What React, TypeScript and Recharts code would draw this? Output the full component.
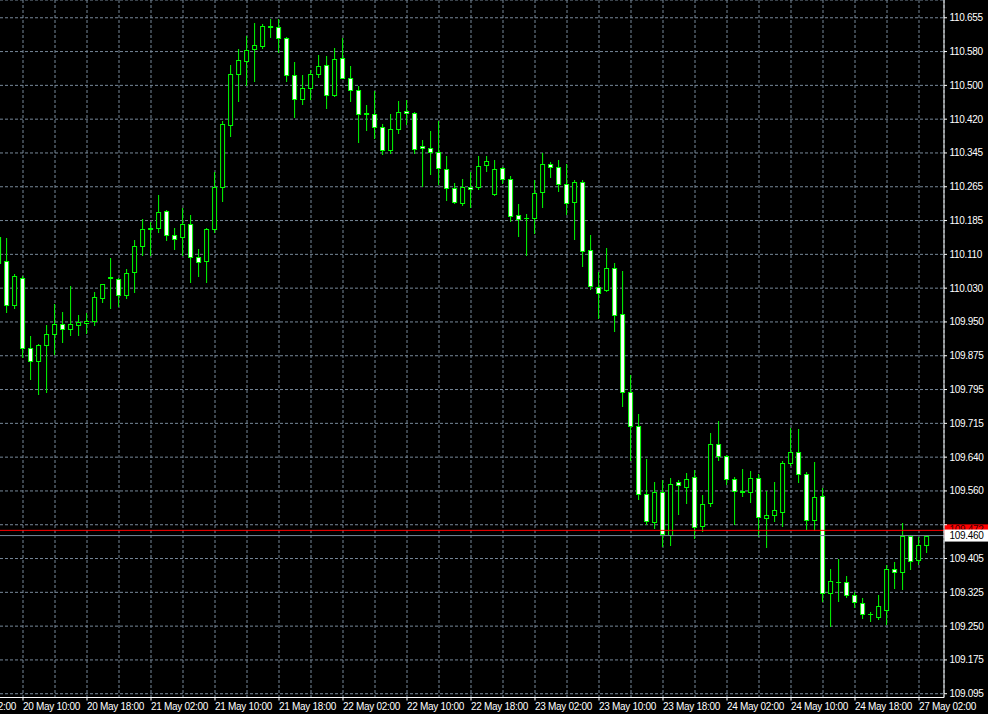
import React from "react";
import { ComposedChart, Bar, XAxis, YAxis, CartesianGrid, ReferenceLine } from "recharts";

// hourly candles, first entry is the bar cut at the left edge
const opens = [
  110.150, 110.093, 109.993, 110.055, 109.894, 109.864, 109.900, 109.926, 109.949, 109.937,
  109.947, 109.950, 109.956, 110.008, 110.055, 110.053, 110.015, 110.069, 110.129, 110.168,
  110.170, 110.210, 110.154, 110.149, 110.180, 110.104, 110.093, 110.167, 110.265, 110.408,
  110.526, 110.555, 110.583, 110.590, 110.635, 110.634, 110.609, 110.524, 110.467, 110.494,
  110.526, 110.547, 110.477, 110.563, 110.517, 110.489, 110.435, 110.434, 110.403, 110.350,
  110.398, 110.440, 110.436, 110.360, 110.355, 110.346, 110.307, 110.263, 110.227, 110.265,
  110.265, 110.316, 110.249, 110.309, 110.284, 110.200, 110.194, 110.194, 110.254, 110.318,
  110.311, 110.272, 110.230, 110.277, 110.120, 110.034, 110.027, 110.078, 109.972, 109.792,
  109.713, 109.557, 109.491, 109.561, 109.462, 109.584, 109.573, 109.596, 109.482, 109.536,
  109.672, 109.644, 109.591, 109.562, 109.560, 109.593, 109.501, 109.508, 109.514, 109.628,
  109.653, 109.603, 109.497, 109.552, 109.327, 109.354, 109.353, 109.323, 109.305, 109.279,
  109.272, 109.289, 109.383, 109.376, 109.460, 109.404, 109.439,
];
const highs = [
  110.155, 110.146, 110.063, 110.058, 109.920, 109.903, 109.947, 109.994, 109.977, 110.037,
  109.970, 109.973, 110.022, 110.041, 110.100, 110.055, 110.076, 110.143, 110.191, 110.183,
  110.245, 110.211, 110.169, 110.217, 110.199, 110.122, 110.170, 110.300, 110.416, 110.547,
  110.584, 110.614, 110.644, 110.641, 110.653, 110.653, 110.610, 110.552, 110.522, 110.535,
  110.570, 110.567, 110.586, 110.609, 110.543, 110.497, 110.453, 110.485, 110.410, 110.434,
  110.462, 110.466, 110.438, 110.374, 110.393, 110.416, 110.335, 110.274, 110.284, 110.299,
  110.337, 110.337, 110.327, 110.310, 110.289, 110.226, 110.203, 110.280, 110.344, 110.323,
  110.326, 110.318, 110.281, 110.281, 110.153, 110.068, 110.123, 110.090, 110.070, 109.830,
  109.740, 109.636, 109.583, 109.589, 109.593, 109.589, 109.605, 109.612, 109.554, 109.697,
  109.725, 109.645, 109.596, 109.614, 109.608, 109.603, 109.562, 109.583, 109.633, 109.708,
  109.705, 109.606, 109.629, 109.570, 109.382, 109.405, 109.366, 109.329, 109.315, 109.284,
  109.322, 109.391, 109.400, 109.490, 109.461, 109.456, 109.461,
];
const lows = [
  110.077, 109.976, 109.985, 109.872, 109.821, 109.787, 109.791, 109.878, 109.906, 109.924,
  109.922, 109.928, 109.947, 109.998, 109.985, 109.990, 110.008, 110.022, 110.107, 110.107,
  110.160, 110.141, 110.121, 110.107, 110.045, 110.060, 110.045, 110.160, 110.233, 110.382,
  110.464, 110.499, 110.510, 110.585, 110.610, 110.576, 110.510, 110.426, 110.456, 110.467,
  110.518, 110.446, 110.474, 110.515, 110.464, 110.368, 110.395, 110.378, 110.341, 110.343,
  110.389, 110.410, 110.343, 110.266, 110.294, 110.271, 110.234, 110.227, 110.222, 110.218,
  110.260, 110.301, 110.245, 110.273, 110.185, 110.151, 110.107, 110.158, 110.218, 110.287,
  110.255, 110.203, 110.144, 110.083, 110.030, 109.962, 110.024, 109.932, 109.760, 109.635,
  109.544, 109.486, 109.477, 109.436, 109.438, 109.510, 109.535, 109.455, 109.470, 109.528,
  109.634, 109.580, 109.486, 109.551, 109.537, 109.459, 109.433, 109.493, 109.483, 109.622,
  109.583, 109.475, 109.473, 109.310, 109.251, 109.310, 109.318, 109.296, 109.269, 109.263,
  109.267, 109.256, 109.339, 109.336, 109.383, 109.395, 109.423,
];
const closes = [
  110.090, 109.993, 110.060, 109.894, 109.864, 109.900, 109.926, 109.949, 109.937, 109.949,
  109.954, 109.956, 110.011, 110.041, 110.057, 110.016, 110.067, 110.129, 110.168, 110.169,
  110.207, 110.154, 110.144, 110.180, 110.103, 110.091, 110.168, 110.265, 110.410, 110.526,
  110.558, 110.581, 110.591, 110.637, 110.634, 110.609, 110.524, 110.468, 110.494, 110.526,
  110.544, 110.477, 110.560, 110.517, 110.489, 110.434, 110.434, 110.403, 110.350, 110.399,
  110.438, 110.436, 110.353, 110.355, 110.346, 110.309, 110.263, 110.230, 110.265, 110.260,
  110.314, 110.325, 110.307, 110.284, 110.198, 110.191, 110.193, 110.251, 110.318, 110.311,
  110.272, 110.228, 110.277, 110.117, 110.037, 110.020, 110.078, 109.970, 109.792, 109.713,
  109.557, 109.493, 109.561, 109.464, 109.580, 109.577, 109.591, 109.479, 109.533, 109.672,
  109.644, 109.591, 109.563, 109.561, 109.593, 109.503, 109.508, 109.518, 109.628, 109.653,
  109.603, 109.497, 109.550, 109.327, 109.356, 109.353, 109.323, 109.306, 109.280, 109.278,
  109.298, 109.383, 109.376, 109.460, 109.402, 109.439, 109.460,
];

// one label every 8 hours, first one starts off screen
const timeLabels = [
  "20 May 02:00", "20 May 10:00", "20 May 18:00", "21 May 02:00", "21 May 10:00", "21 May 18:00",
  "22 May 02:00", "22 May 10:00", "22 May 18:00", "23 May 02:00", "23 May 10:00", "23 May 18:00",
  "24 May 02:00", "24 May 10:00", "24 May 18:00", "27 May 02:00",
];

const priceTicks = [
  110.655, 110.577, 110.499, 110.421, 110.343, 110.265, 110.187, 110.109, 110.031, 109.953,
  109.875, 109.797, 109.719, 109.641, 109.563, 109.485, 109.407, 109.329, 109.251, 109.173, 109.095,
];
const priceLabels = [
  "110.655", "110.580", "110.500", "110.420", "110.345", "110.265", "110.185", "110.110", "110.030", "109.950",
  "109.875", "109.795", "109.715", "109.640", "109.560", "109.480", "109.405", "109.325", "109.250", "109.175", "109.095",
];

const askPrice = 109.472;
const bidPrice = 109.46;

const FIRST = -6; // bar slots before the first candle (only for the time scale)
const LAST = 115;

const rows: any[] = [];
for (let k = FIRST; k <= LAST; k++) {
  const i = k + 1;
  if (i >= 0) rows.push({ k, open: opens[i], high: highs[i], low: lows[i], close: closes[i] });
  else rows.push({ k });
}
const gridTicks = rows.map(r => r.k).filter(k => (((k - 2) % 4) + 4) % 4 === 0);

const LIME = "#00ff00";
const FONT = "'Liberation Sans', Arial, sans-serif";

const Candle = (props: any) => {
  const { x, y, width, height, payload } = props;
  if (!payload || payload.low === undefined) return null;
  const { open, high, low, close } = payload;
  const top0 = Math.min(y, y + height);
  const h = Math.abs(height);
  const span = high - low;
  const toY = (p: number) => (span > 0 ? top0 + ((high - p) / span) * h : top0);
  const cx = x + width / 2;
  const yH = Math.round(toY(high));
  const yL = Math.round(toY(low));
  const bTop = Math.round(toY(Math.max(open, close)));
  const bBot = Math.round(toY(Math.min(open, close)));
  const bear = close < open;
  return (
    <g>
      <rect x={cx - 0.5} y={yH} width={1} height={Math.max(1, yL - yH + 1)} fill={LIME} />
      {bBot - bTop < 1 ? (
        <rect x={cx - 2.5} y={bTop} width={5} height={1} fill={LIME} />
      ) : (
        <rect
          x={cx - 2}
          y={bTop + 0.5}
          width={4}
          height={bBot - bTop}
          fill={bear ? "#ffffff" : "#000000"}
          stroke={LIME}
          strokeWidth={1}
        />
      )}
    </g>
  );
};

const TimeTick = (props: any) => {
  const { x, y, payload } = props;
  const k = payload.value;
  if ((((k - FIRST) % 8) + 8) % 8 !== 0) return null;
  const label = timeLabels[(k - FIRST) / 8];
  return (
    <g>
      <line x1={x} x2={x} y1={y} y2={y + 3} stroke="#ffffff" />
      <text x={x} y={y + 12.5} fill="#ffffff" fontSize={10} fontFamily={FONT} letterSpacing={-0.3} textAnchor="start">
        {label}
      </text>
    </g>
  );
};

// price scale label; the one sitting under the ask/bid tags is covered in the terminal
const PriceTick = (props: any) => {
  const { x, y, payload } = props;
  const v = payload.value;
  const label = priceLabels[priceTicks.indexOf(v)] ?? "";
  if (Math.abs(v - askPrice) < 0.02) return null;
  return (
    <text x={x} y={y + 3.5} fill="#ffffff" fontSize={10} fontFamily={FONT} letterSpacing={-0.3} textAnchor="start">
      {label}
    </text>
  );
};

const PriceTag = (props: any) => {
  const vb = props.viewBox || {};
  const x = (vb.x ?? 0) + (vb.width ?? 0);
  const y = vb.y ?? 0;
  return (
    <g>
      <rect x={x + 0.5} y={y - 6} width={46} height={12} fill={props.bg} />
      <text x={x + 5.5} y={y + props.dy} fill={props.color} fontSize={10} fontFamily={FONT} letterSpacing={-0.3}>
        {props.text}
      </text>
    </g>
  );
};

export default function App() {
  return (
    <div style={{ position: "absolute", left: 0, top: 0, width: 988, height: 714, overflow: "hidden", background: "#000" }}>
      <div style={{ position: "absolute", left: -45.5, top: 0 }}>
        <ComposedChart
          width={1034}
          height={714}
          data={rows}
          margin={{ top: 0, right: 0, bottom: 0, left: 0 }}
          barCategoryGap={0}
          barGap={0}
        >
          <CartesianGrid stroke="#778899" strokeDasharray="3 2" />
          <XAxis
            dataKey="k"
            type="category"
            ticks={gridTicks}
            interval={0}
            height={16.5}
            padding={{ left: 0, right: 13 }}
            axisLine={{ stroke: "#ffffff" }}
            tickLine={false}
            tickSize={0}
            tickMargin={0}
            tick={<TimeTick />}
          />
          <YAxis
            orientation="right"
            type="number"
            width={45}
            domain={[109.0863, 110.696]}
            allowDataOverflow
            ticks={priceTicks}
            interval={0}
            axisLine={{ stroke: "#ffffff" }}
            tickLine={{ stroke: "#ffffff" }}
            tickSize={3}
            tickMargin={2.5}
            tick={<PriceTick />}
          />
          <Bar
            dataKey={(d: any) => (d.low === undefined ? null : [d.low, d.high])}
            barSize={8}
            shape={(p: any) => <Candle {...p} />}
            isAnimationActive={false}
          />
          <ReferenceLine
            y={askPrice}
            stroke="#ff0000"
            strokeWidth={1}
            label={<PriceTag text="109.472" bg="#ff0000" color="#400000" dy={3} />}
          />
          <ReferenceLine
            y={bidPrice}
            stroke="#778899"
            strokeWidth={1}
            label={<PriceTag text="109.460" bg="#ffffff" color="#000000" dy={3.5} />}
          />
        </ComposedChart>
      </div>
    </div>
  );
}
